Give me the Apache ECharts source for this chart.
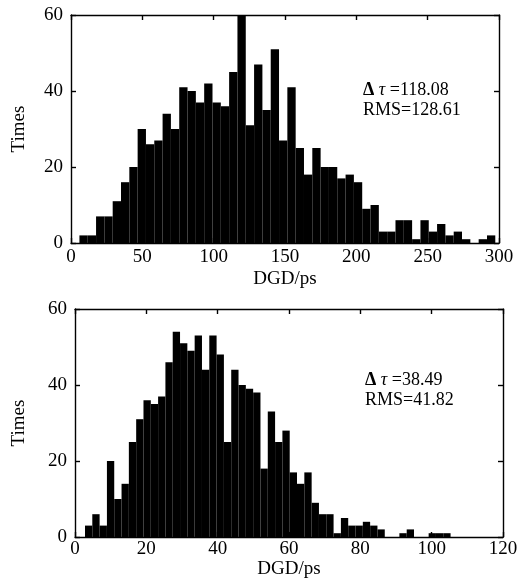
<!DOCTYPE html>
<html><head><meta charset="utf-8">
<script src="https://cdn.jsdelivr.net/npm/echarts@6/dist/echarts.min.js"></script>
<style>html,body{margin:0;padding:0;background:#fff}#c{width:527px;height:580px}</style>
</head><body><div id="c"></div>
<script>
// ---- data ----
// Top histogram: 50 bins spanning this DGD range (ps)
const topRange = [5.9, 297.4];
const topCounts = [2,2,7,7,11,16,20,30,26,27,34,30,41,40,37,42,37,36,45,60,
                   31,47,35,51,27,41,25,18,25,20,20,17,18,16,9,10,3,3,6,6,
                   1,6,3,5,2,3,1,0,1,2];
const topXTicks = [0, 300, 50];
const topYTicks = [0, 60, 20];
const topNote = ['118.08', '128.61'];

// Bottom histogram: 50 bins spanning this DGD range (ps)
const botRange = [2.8, 105.3];
const botCounts = [3,6,3,20,10,14,25,31,36,35,37,46,54,51,49,53,44,53,48,25,
                   44,40,39,38,18,33,25,28,17,14,17,9,6,6,1,5,3,3,4,3,
                   2,0,0,1,2,0,0,1,1,1];
const botXTicks = [0, 120, 20];
const botYTicks = [0, 60, 20];
const botNote = ['38.49', '41.82'];

const xName = 'DGD/ps';
const yName = 'Times';

// ---- build ----
function bins(range, counts){
  const w = (range[1]-range[0])/counts.length;
  return counts.map((c,i)=>[range[0]+i*w, range[0]+(i+1)*w, c]);
}
function renderBar(params, api){
  const p0 = api.coord([api.value(0), api.value(2)]);
  const p1 = api.coord([api.value(1), 0]);
  return {type:'rect', shape:{x:p0[0], y:p0[1], width:p1[0]-p0[0], height:p1[1]-p0[1]},
          style:{fill:'#000'}};
}
const FONT = 'Liberation Serif';
const FS = 19;
const lineStyle = {color:'#000', width:1.4};
function xAxes(g, t, gap, labelMargin){
  const base = {gridIndex:g, type:'value', min:t[0], max:t[1], interval:t[2],
    splitLine:{show:false}, axisLine:{show:true, onZero:false, lineStyle},
    axisTick:{show:true, inside:true, length:5, lineStyle}};
  return [
    Object.assign({}, base, {position:'bottom', name:xName, nameLocation:'middle', nameGap:gap,
      nameTextStyle:{fontFamily:FONT, fontSize:FS, color:'#000'},
      axisLabel:{fontFamily:FONT, fontSize:FS, color:'#000', margin:labelMargin}}),
    Object.assign({}, base, {position:'top', axisLabel:{show:false}})
  ];
}
function yAxes(g, t, gap){
  const base = {gridIndex:g, type:'value', min:t[0], max:t[1], interval:t[2],
    splitLine:{show:false}, axisLine:{show:true, onZero:false, lineStyle},
    axisTick:{show:true, inside:true, length:5, lineStyle}};
  return [
    Object.assign({}, base, {position:'left', name:yName, nameLocation:'middle', nameGap:gap,
      nameTextStyle:{fontFamily:FONT, fontSize:FS, color:'#000'},
      axisLabel:{fontFamily:FONT, fontSize:FS, color:'#000', margin:8}}),
    Object.assign({}, base, {position:'right', axisLabel:{show:false}})
  ];
}
function note(left, top, dt, rms){
  return {type:'text', left, top, z:10, style:{
    text:'{d|Δ} {t|τ} =' + dt + '\nRMS=' + rms,
    rich:{d:{fontFamily:FONT, fontSize:18, fontWeight:'bold'},
          t:{fontFamily:FONT, fontSize:18, fontStyle:'italic'}},
    font:'18px "Liberation Serif"', fill:'#000', lineHeight:20}};
}

const chart = echarts.init(document.getElementById('c'), null, {renderer:'canvas'});
chart.setOption({
  animation:false,
  grid:[{left:71, right:28, top:15, height:228},
        {left:75, right:24, top:309, height:229}],
  xAxis:[...xAxes(0, topXTicks, 27, 5), ...xAxes(1, botXTicks, 23, 3)],
  yAxis:[...yAxes(0, topYTicks, 42), ...yAxes(1, botYTicks, 46)],
  series:[
    {type:'custom', xAxisIndex:0, yAxisIndex:0, renderItem:renderBar,
     encode:{x:[0,1], y:2}, data:bins(topRange, topCounts), clip:true},
    {type:'custom', xAxisIndex:2, yAxisIndex:2, renderItem:renderBar,
     encode:{x:[0,1], y:2}, data:bins(botRange, botCounts), clip:true}
  ],
  graphic:[note(363, 80, topNote[0], topNote[1]), note(365, 370, botNote[0], botNote[1])]
});
</script></body></html>
